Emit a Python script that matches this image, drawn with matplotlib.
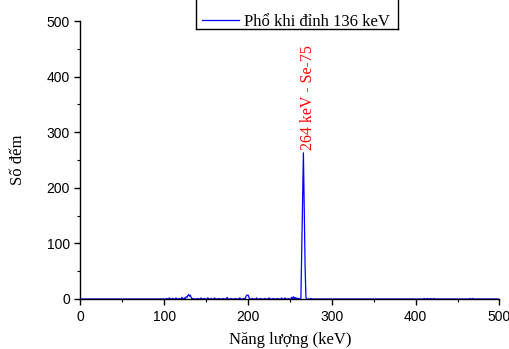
import numpy as np
import matplotlib
matplotlib.use("Agg")
import matplotlib.pyplot as plt
from matplotlib.ticker import MultipleLocator
from matplotlib.lines import Line2D

# ---- data ----
energy_min, energy_max = 0, 500
nonzero_energy = [103, 106, 110, 114, 118, 121, 124, 126, 127, 128, 129, 130, 131, 132, 134,
                  140, 144, 148, 152, 156, 160, 165, 170, 175, 180, 185, 190, 195,
                  197, 198, 199, 200, 201, 205, 210, 215, 220, 225, 230, 235, 240,
                  244, 248, 252, 254, 256, 258, 260,
                  263, 264, 265, 266, 267, 268, 269, 275,
                  410, 414, 418, 422, 465, 468]
nonzero_counts = [1, 2, 1, 2, 1, 3, 2, 4, 3, 6, 8, 5, 7, 3, 1,
                  1, 2, 1, 2, 1, 2, 1, 1, 3, 1, 1, 2, 1,
                  3, 6, 7, 7, 3, 1, 2, 1, 1, 2, 1, 1, 2,
                  2, 1, 3, 4, 3, 2, 1,
                  2, 85, 175, 263, 160, 60, 3, 1,
                  1, 1, 1, 1, 1, 1]
energies = np.arange(energy_min, energy_max + 1)
counts = np.zeros_like(energies, dtype=float)
for e, c in zip(nonzero_energy, nonzero_counts):
    counts[e - energy_min] = c

legend_label = "Phổ khi đỉnh 136 keV"
peak_label = "264 keV - Se-75"
peak_label_pos = (271.5, 268)

xlabel = "Năng lượng (keV)"
ylabel = "Số đếm"

fig = plt.figure(figsize=(5.10, 3.49), dpi=100)
ax = fig.add_axes([80.5/510, 50/349, 419/510, 278/349])

ax.plot(energies, counts, color="#0000ff", lw=0.9)
ax.set_xlim(0, 500)
ax.set_ylim(0, 500)

for s in ["top", "right"]:
    ax.spines[s].set_visible(False)
for s in ["left", "bottom"]:
    ax.spines[s].set_linewidth(1.0)

ax.xaxis.set_major_locator(MultipleLocator(100))
ax.xaxis.set_minor_locator(MultipleLocator(50))
ax.yaxis.set_major_locator(MultipleLocator(100))
ax.yaxis.set_minor_locator(MultipleLocator(50))
ax.tick_params(which="major", direction="out", length=4, width=1.0,
               labelsize=10, pad=3.5)
ax.tick_params(axis="x", which="major", pad=4)
ax.tick_params(which="minor", direction="out", length=2.5, width=0.8)
for lab in ax.get_xticklabels() + ax.get_yticklabels():
    lab.set_fontfamily("Liberation Sans")

ax.set_xlabel(xlabel, family="Liberation Serif", fontsize=12, labelpad=6)
ax.set_ylabel(ylabel, family="Liberation Serif", fontsize=12, labelpad=15)

ax.text(peak_label_pos[0], peak_label_pos[1], peak_label, rotation=90,
        color="#ff0000", family="Liberation Serif", fontsize=11.5,
        ha="center", va="bottom")

# legend (frame top lies beyond the figure edge, as in the reference)
handle = Line2D([], [], color="#0000ff", lw=0.9)
leg = fig.legend([handle], [legend_label], loc="center left",
                 bbox_to_anchor=(202/510, 1 - 22/349), bbox_transform=fig.transFigure,
                 prop={"family": "Liberation Serif", "size": 12},
                 frameon=False, handlelength=2.2, handletextpad=0.3,
                 borderpad=0, borderaxespad=0)
fx0, fx1, fy0 = 196/510, 398/510, 1 - 29/349
for xs, ys in [([fx0, fx0], [fy0, 1.0]), ([fx0, fx1], [fy0, fy0]), ([fx1, fx1], [fy0, 1.0])]:
    fig.add_artist(Line2D(xs, ys, transform=fig.transFigure, color="black", lw=1.0))

fig.savefig("out.png", dpi=100)
